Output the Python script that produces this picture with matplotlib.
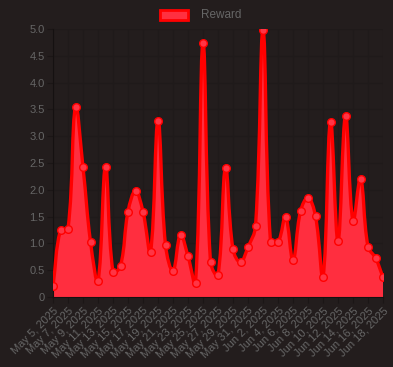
import matplotlib
matplotlib.use("Agg")
import matplotlib.pyplot as plt
import numpy as np
from matplotlib.path import Path
from matplotlib.patches import PathPatch, Rectangle
import datetime as dt

start = dt.date(2025, 5, 5)
dates = [start + dt.timedelta(days=i) for i in range(45)]
labels = [f"{d.strftime('%b')} {d.day}, {d.year}" for d in dates]
rewards = [0.2, 1.25, 1.27, 3.55, 2.42, 1.03, 0.3, 2.43, 0.47, 0.58,
           1.59, 1.98, 1.59, 0.84, 3.29, 0.97, 0.49, 1.16, 0.76, 0.26,
           4.73, 0.65, 0.41, 2.41, 0.89, 0.65, 0.93, 1.32, 4.98, 1.03,
           1.02, 1.49, 0.69, 1.6, 1.85, 1.51, 0.37, 3.27, 1.04, 3.38,
           1.42, 2.2, 0.94, 0.73, 0.37]
yticks = [0, 0.5, 1.0, 1.5, 2.0, 2.5, 3.0, 3.5, 4.0, 4.5, 5.0]
ytick_labels = ["0", "0.5", "1.0", "1.5", "2.0", "2.5", "3.0", "3.5", "4.0", "4.5", "5.0"]

plt.rcParams['font.family'] = ['Liberation Sans', 'DejaVu Sans']

BG = "#231d1d"
W, H = 393, 367
fig = plt.figure(figsize=(W / 100, H / 100), dpi=100, facecolor=BG)
L, R, T, B = 53, 383, 29, 297
ax = fig.add_axes([L / W, 1 - B / H, (R - L) / W, (B - T) / H], facecolor=BG)

x = np.arange(len(rewards), dtype=float)
y = np.array(rewards, dtype=float)
ax.set_xlim(0, len(x) - 1)
ax.set_ylim(0, 5.0)

# Chart.js-like spline (tension 0.4) in pixel space
sx = (R - L) / (len(x) - 1)
sy = (B - T) / 5.0
px = x * sx
py = y * sy
t = 0.4
cps = []
n = len(x)
for i in range(n):
    p0 = (px[max(i - 1, 0)], py[max(i - 1, 0)])
    p1 = (px[i], py[i])
    p2 = (px[min(i + 1, n - 1)], py[min(i + 1, n - 1)])
    d01 = np.hypot(p1[0] - p0[0], p1[1] - p0[1])
    d12 = np.hypot(p2[0] - p1[0], p2[1] - p1[1])
    s01 = d01 / (d01 + d12) if (d01 + d12) else 0
    s12 = d12 / (d01 + d12) if (d01 + d12) else 0
    fa = t * s01
    fb = t * s12
    prev = (p1[0] - fa * (p2[0] - p0[0]), p1[1] - fa * (p2[1] - p0[1]))
    nxt = (p1[0] + fb * (p2[0] - p0[0]), p1[1] + fb * (p2[1] - p0[1]))
    prev = (prev[0], min(max(prev[1], 0), 5.0 * sy))
    nxt = (nxt[0], min(max(nxt[1], 0), 5.0 * sy))
    cps.append((prev, nxt))

verts = [(x[0], y[0])]
codes = [Path.MOVETO]
for i in range(n - 1):
    c1 = cps[i][1]
    c2 = cps[i + 1][0]
    verts += [(c1[0] / sx, c1[1] / sy), (c2[0] / sx, c2[1] / sy), (x[i + 1], y[i + 1])]
    codes += [Path.CURVE4] * 3

fill_verts = verts + [(x[-1], 0), (x[0], 0), (x[0], y[0])]
fill_codes = codes + [Path.LINETO, Path.LINETO, Path.CLOSEPOLY]
ax.add_patch(PathPatch(Path(fill_verts, fill_codes), facecolor="#ff2e3f", edgecolor="none", zorder=2))
ax.add_patch(PathPatch(Path(verts, codes), facecolor="none", edgecolor="#ff0000", lw=2.4, zorder=3,
                       joinstyle="round", capstyle="round"))
ax.plot(x, y, "o", ms=5.5, mfc="#ff3545", mec="#ff0000", mew=1.0, zorder=4, label="Reward")

ax.set_yticks(yticks)
ax.set_yticklabels(ytick_labels)
ax.set_xticks(x[::2])
ax.set_xticklabels(labels[::2], rotation=45, ha="right", rotation_mode="anchor")
ax.tick_params(axis="both", colors="#1b1616", labelcolor="#666666", labelsize=8, length=4, width=0.8, pad=2)
ax.grid(True, color="#1f1a1a", lw=0.8, zorder=0)
for s in ["top", "right"]:
    ax.spines[s].set_visible(False)
ax.spines["left"].set_color("#151111")
ax.spines["bottom"].set_color("#151111")

# legend
fig.patches.append(Rectangle((160 / W, 1 - 20 / H), 28 / W, 10 / H, transform=fig.transFigure,
                             facecolor="#ff3040", edgecolor="#ff0000", lw=2))
fig.text(201 / W, 1 - 15 / H, "Reward", color="#666666", fontsize=8.5, va="center", ha="left")

fig.savefig("out.png", dpi=100, facecolor=BG)
